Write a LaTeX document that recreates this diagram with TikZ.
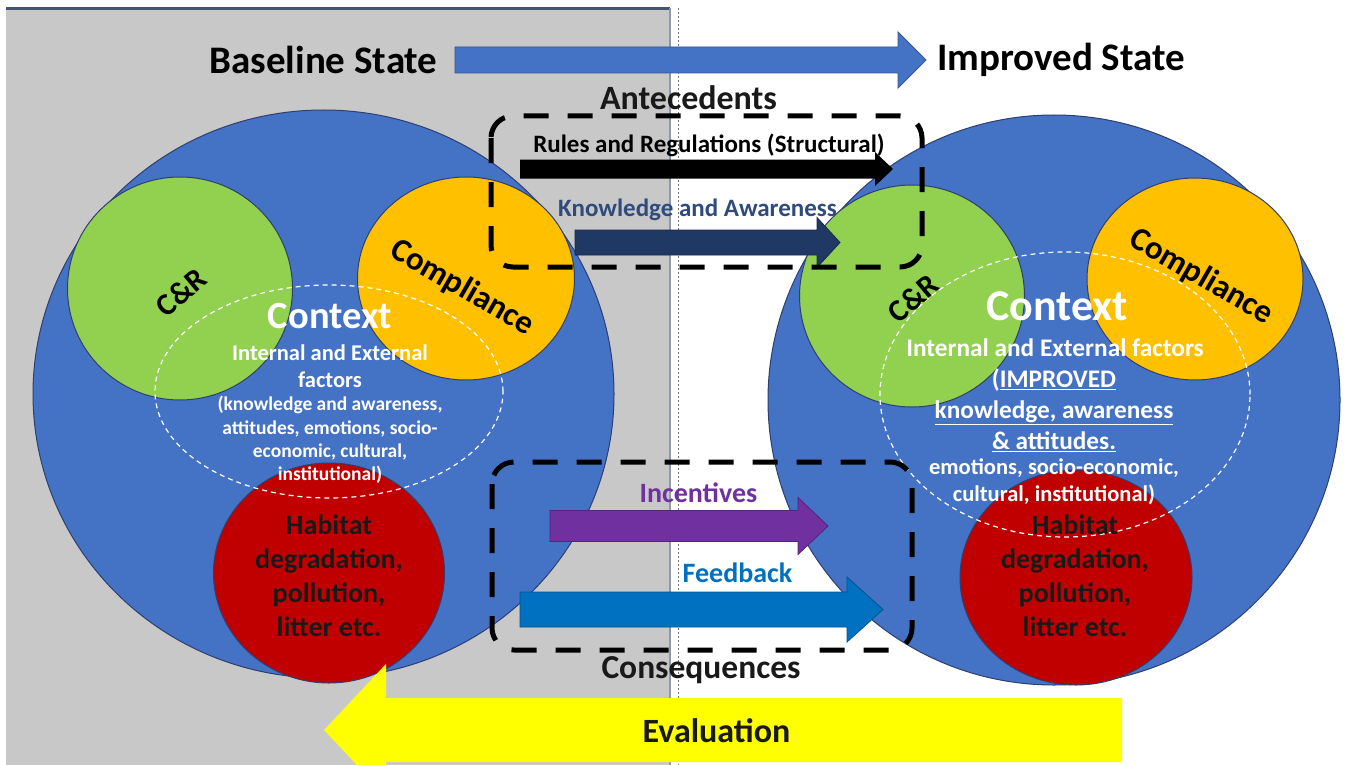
\documentclass[tikz,border=0pt]{standalone}
\usepackage{fontspec}
\setmainfont{Carlito}
\usetikzlibrary{shapes.geometric}

\definecolor{panelgrey}{HTML}{C8C8C8}
\definecolor{panelline}{HTML}{44546A}
\definecolor{bigblue}{HTML}{4472C4}
\definecolor{edgeblue}{HTML}{2F3F6F}
\definecolor{crgreen}{HTML}{92D050}
\definecolor{complorange}{HTML}{FFC000}
\definecolor{habred}{HTML}{C00000}
\definecolor{navyarrow}{HTML}{203864}
\definecolor{navytext}{HTML}{2F4B7C}
\definecolor{incpurple}{HTML}{7030A0}
\definecolor{fbblue}{HTML}{0070C0}
\definecolor{evalyellow}{HTML}{FFFF00}

\newcommand\fsz[2]{\fontsize{#1}{#2}\selectfont}
% block arrow: style, tail x, back of head x, tip x, centre y, shaft half height, head half height
\newcommand\barrowshape[7]{%
  \path[#1] (#2,#5-#6) -- (#3,#5-#6) -- (#3,#5-#7) -- (#4,#5)
            -- (#3,#5+#7) -- (#3,#5+#6) -- (#2,#5+#6) -- cycle;}

\begin{document}
\begin{tikzpicture}[x=1pt,y=-1pt,
  every node/.style={inner sep=0pt, outer sep=0pt},
  txt/.style={font={\bfseries\fsz{#1}{#1}}},
  disc/.style={ellipse, draw=edgeblue, line width=1pt, inner sep=0pt},
  ctxring/.style={ellipse, draw=white, line width=1.2pt, dash pattern=on 5pt off 4pt, inner sep=0pt},
  dbox/.style={draw=black, line width=5pt, dash pattern=on 25pt off 19pt, rounded corners=22pt},
  arrowfill/.style={fill=#1, draw=#1!75!black, line width=0.8pt}
]
\useasboundingbox (0,0) rectangle (1351,765);
\clip (0,0) rectangle (1351,765);

% two halves: grey baseline side, white improved side
\fill[white] (0,0) rectangle (1351,765);
\fill[panelgrey] (6,8) rectangle (670,765);
\draw[panelline, line width=2.5pt] (6,8.5) -- (670,8.5);
\draw[panelline!60, line width=1.5pt] (670,8) -- (670,765);
\draw[black!55, line width=1pt, dash pattern=on 2pt off 2pt] (678,8) -- (678,765);

% state transition arrow
\barrowshape{arrowfill=bigblue}{455}{898}{926}{60}{13}{28}
\node[txt=39] (base) at (323.5,60) {Baseline State};
\node[txt=39] (impr) at (1061,60) {Improved State};

% baseline state circles
\node[disc, fill=bigblue, minimum width=581pt, minimum height=568pt] (bigL) at (323.5,394) {};
\node[disc, fill=crgreen, minimum width=225pt, minimum height=223pt] (crL) at (180,288.5) {};
\node[disc, fill=complorange, minimum width=217pt, minimum height=203pt] (coL) at (466,278.5) {};
\node[disc, fill=habred, minimum width=231pt, minimum height=220pt] (haL) at (329,573) {};
\node[ctxring, minimum width=348pt, minimum height=213pt] (ctxL) at (329,391.5) {};

% improved state circles
\node[disc, fill=bigblue, minimum width=572pt, minimum height=570pt] (bigR) at (1054,400) {};
\node[disc, fill=crgreen, minimum width=225pt, minimum height=222pt] (crR) at (912,296) {};
\node[disc, fill=complorange, minimum width=216pt, minimum height=202pt] (coR) at (1195,279) {};
\node[disc, fill=habred, minimum width=232pt, minimum height=215pt] (haR) at (1076,577.5) {};
\node[ctxring, minimum width=370pt, minimum height=285pt] (ctxR) at (1065,394.5) {};

% baseline labels
\node[txt=31, rotate=40] (crLt) at (181,292) {C\&R};
\node[txt=33, rotate=-30] (coLt) at (462,288) {Compliance};
\node[txt=38.5, text=white] (ctxLt) at (330,316) {Context};
\node[font={\bfseries\fsz{22.5}{27}}, text=white, align=center] (intL) at (330,366) {Internal and External\\factors};
\node[font={\bfseries\fsz{19.5}{23.4}}, text=white, align=center] (detL) at (330,440)
  {(knowledge and awareness,\\attitudes, emotions, socio-\\economic, cultural,\\institutional)};
\node[font={\bfseries\fsz{28}{34}}, text=black!90, align=center] (habL) at (329,576)
  {Habitat\\degradation,\\pollution,\\litter etc.};

% improved labels
\node[txt=31, rotate=40] (crRt) at (913,298) {C\&R};
\node[txt=33, rotate=-30] (coRt) at (1201,277) {Compliance};
\node[txt=44, text=white] (ctxRt) at (1057,306) {Context};
\node[txt=25.3, text=white] (intR) at (1055,348) {Internal and External factors};
\node[font={\bfseries\fsz{25.3}{31}}, text=white, align=center] (impR) at (1054,410)
  {(\underline{IMPROVED}\\\underline{knowledge, awareness}\\\underline{\&\ attitudes.}};
\node[font={\bfseries\fsz{22.5}{27}}, text=white, align=center] (detR) at (1054,482)
  {emotions, socio-economic,\\cultural, institutional)};
\node[font={\bfseries\fsz{28}{34}}, text=black!90, align=center] (habR) at (1075,576)
  {Habitat\\degradation,\\pollution,\\litter etc.};

% antecedents
\barrowshape{fill=black}{520}{875}{893}{169}{9.5}{17}
\barrowshape{arrowfill=navyarrow}{575}{817}{840}{242.5}{12.5}{25}
\node[txt=25] (rules) at (709,145) {Rules and Regulations (Structural)};
\node[txt=25, text=navytext] (know) at (697.5,210) {Knowledge and Awareness};
\node[txt=34, text=black!90] (ante) at (688.5,98) {Antecedents};
\draw[dbox] (491,116) rectangle (922,267);

% consequences
\barrowshape{arrowfill=incpurple}{550}{798}{828}{526}{15.5}{28.5}
\barrowshape{arrowfill=fbblue}{520}{847}{883}{609.5}{17.5}{32.5}
\node[txt=28, text=incpurple] (inc) at (698.5,493) {Incentives};
\node[txt=28, text=fbblue] (fb) at (737.5,573) {Feedback};
\node[txt=33.5, text=black!90] (cons) at (701,670) {Consequences};
\draw[dbox] (492,462) rectangle (912,650);

% evaluation loop back to the baseline
\barrowshape{fill=evalyellow}{1122}{386}{324}{730}{32}{66}
\node[txt=34, text=black!90] (eval) at (716.5,731) {Evaluation};
\end{tikzpicture}
\end{document}
